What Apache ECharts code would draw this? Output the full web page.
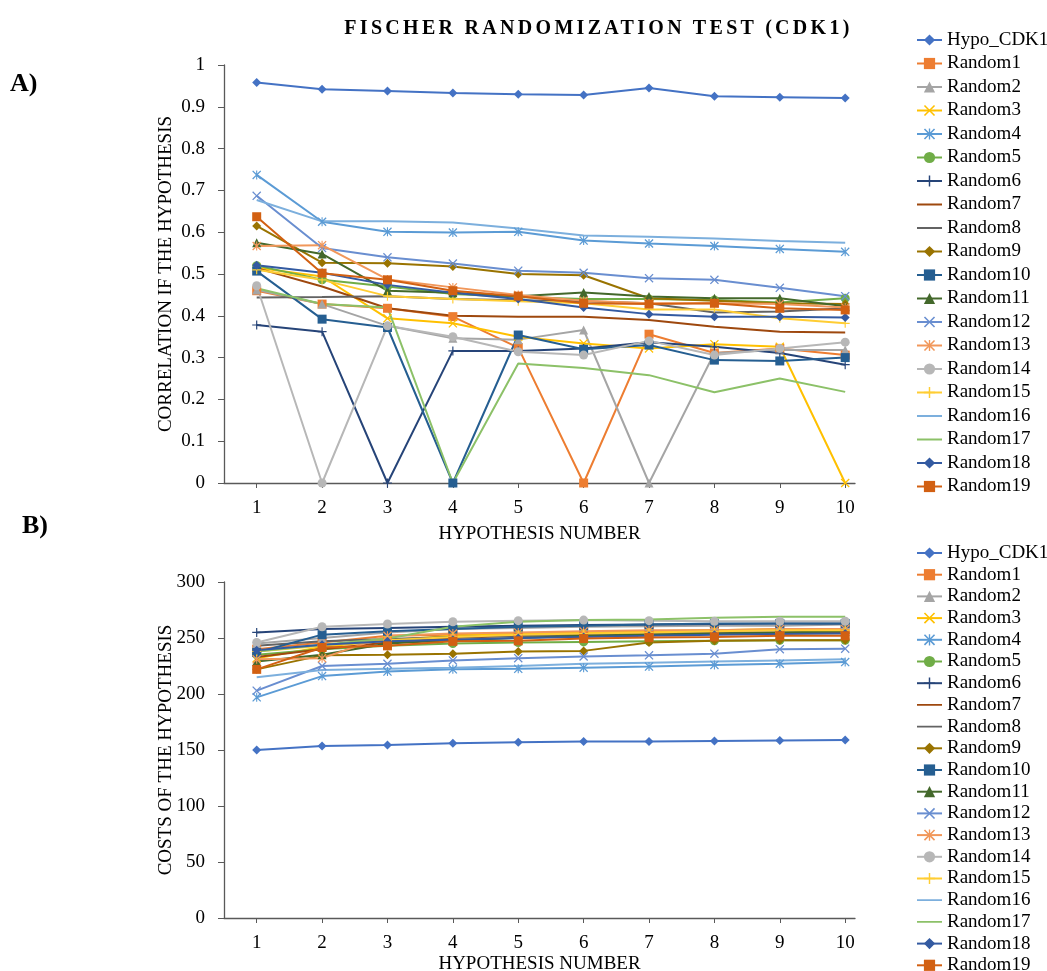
<!DOCTYPE html>
<html>
<head>
<meta charset="utf-8">
<script src="https://cdn.jsdelivr.net/npm/echarts@6/dist/echarts.min.js"></script>
<style>
html,body{margin:0;padding:0;background:#fff;}
#wrap{position:relative;width:1047px;height:971px;overflow:hidden;}
#chart{position:absolute;left:0;top:0;width:1047px;height:971px;}
#title{position:absolute;left:0;width:1197px;top:16px;text-align:center;font-family:'Liberation Serif','Times New Roman',serif;font-weight:bold;font-size:20px;letter-spacing:3.3px;color:#000;white-space:nowrap;}
</style>
</head>
<body>
<div id="wrap">
<div id="chart"></div>
<div id="title">FISCHER RANDOMIZATION TEST (CDK1)</div>
</div>
<script>
// ---------- data ----------
const hypothesisNumbers = [1,2,3,4,5,6,7,8,9,10];
const seriesNames = ['Hypo_CDK1','Random1','Random2','Random3','Random4','Random5','Random6','Random7','Random8','Random9','Random10','Random11','Random12','Random13','Random14','Random15','Random16','Random17','Random18','Random19'];
const yTicksA = [0,0.1,0.2,0.3,0.4,0.5,0.6,0.7,0.8,0.9,1];
const yTicksB = [0,50,100,150,200,250,300];

// Panel A: correlation
const aHypo = [0.958,0.942,0.938,0.933,0.930,0.928,0.945,0.925,0.923,0.921];
const aR1  = [0.460,0.428,0.418,0.398,0.324,0,0.356,0.311,0.322,0.306];
const aR2  = [0.462,0.428,0.376,0.346,0.343,0.366,0,0.311,0.318,0.318];
const aR3  = [0.515,0.494,0.394,0.382,0.350,0.334,0.322,0.332,0.326,0];
const aR4  = [0.737,0.625,0.601,0.599,0.601,0.580,0.573,0.567,0.560,0.553];
const aR5  = [0.520,0.486,0.470,0.452,0.445,0.440,0.440,0.438,0.432,0.442];
const aR6  = [0.378,0.362,0,0.316,0.316,0.322,0.337,0.326,0.311,0.283];
const aR7  = [0.514,0.470,0.418,0.400,0.398,0.398,0.390,0.374,0.362,0.360];
const aR8  = [0.444,0.445,0.447,0.440,0.437,0.435,0.430,0.408,0.410,0.418];
const aR9  = [0.615,0.527,0.526,0.518,0.500,0.497,0.442,0.436,0.430,0.428];
const aR10 = [0.507,0.392,0.372,0,0.354,0.320,0.330,0.294,0.292,0.300];
const aR11 = [0.575,0.548,0.460,0.455,0.447,0.456,0.446,0.442,0.442,0.423];
const aR12 = [0.687,0.562,0.540,0.525,0.508,0.503,0.490,0.486,0.467,0.447];
const aR13 = [0.567,0.569,0.487,0.468,0.450,0.436,0.430,0.430,0.428,0.420];
const aR14 = [0.472,0,0.376,0.350,0.314,0.306,0.340,0.306,0.322,0.337];
const aR15 = [0.510,0.486,0.447,0.440,0.435,0.430,0.415,0.415,0.394,0.382];
const aR16 = [0.677,0.626,0.626,0.623,0.609,0.592,0.589,0.585,0.579,0.575];
const aR17 = [0.466,0.428,0.420,0,0.286,0.275,0.258,0.217,0.250,0.218];
const aR18 = [0.521,0.503,0.474,0.455,0.440,0.420,0.404,0.398,0.398,0.396];
const aR19 = [0.637,0.502,0.486,0.460,0.447,0.430,0.428,0.430,0.418,0.414];

// Panel B: costs
const bHypo = [150,153.5,154.5,156,157,157.5,157.5,158,158.5,159];
const bR1  = [240,246,252,253,254,255,256,257,257,258];
const bR2  = [245,250,255,258,259,260,260.5,261,261,262];
const bR3  = [232,242,248,252,254,255,256,257,258,258];
const bR4  = [197,216,220,222,222.5,223.5,224.5,226,227,228.5];
const bR5  = [235,240,243,245,246,246.5,247,247.5,248,248];
const bR6  = [255,258,259,260,261,261.5,262,262.5,263,263];
const bR7  = [233,240,246,250,252,252.5,253,254,254.5,255];
const bR8  = [243,247,249,251,252,253,254,255,255,256];
const bR9  = [222,234.5,235,236,238,238.5,246,247.5,248,248];
const bR10 = [237,253,256,258,260,261,262,263,263,263];
const bR11 = [229,235,245,248,250,252,253,254,255,256];
const bR12 = [203,225,227,230,232,233.5,234.5,236,240,240.5];
const bR13 = [231,232,252,254,255,256,257,257,258,258];
const bR14 = [246,260,262.5,264.5,265.5,266,265.5,265,265,265];
const bR15 = [238,243,248,251,253,254,255,256,257,257];
const bR16 = [215,221.5,222.5,223.5,225,227,228,229,230,231];
const bR17 = [238,244,249.5,260,264.5,266,266.5,268,269,269];
const bR18 = [239,244,247,248.5,250,251,252,253,253.5,254];
const bR19 = [222,241.5,243,247,247.5,249.5,250.5,251,252,252];

const panelA = [aHypo,aR1,aR2,aR3,aR4,aR5,aR6,aR7,aR8,aR9,aR10,aR11,aR12,aR13,aR14,aR15,aR16,aR17,aR18,aR19];
const panelB = [bHypo,bR1,bR2,bR3,bR4,bR5,bR6,bR7,bR8,bR9,bR10,bR11,bR12,bR13,bR14,bR15,bR16,bR17,bR18,bR19];

// ---------- styles ----------
const colors = ['#4472C4','#ED7D31','#A5A5A5','#FFC000','#5B9BD5','#70AD47','#264478','#9E480E','#636363','#997300','#255E91','#43682B','#698ED0','#F1975A','#B7B7B7','#FFCD33','#7CAFDD','#8CC168','#335AA1','#D26012'];
const X_PATH = 'path://M1,0 L5,4 L9,0 L10,1 L6,5 L10,9 L9,10 L5,6 L1,10 L0,9 L4,5 L0,1 Z';
const STAR_PATH = 'path://M1,0 L5,4 L9,0 L10,1 L6,5 L10,9 L9,10 L5,6 L1,10 L0,9 L4,5 L0,1 Z M4.4,0 L5.6,0 L5.6,10 L4.4,10 Z';
const PLUS_PATH = 'path://M4.35,0 L5.65,0 L5.65,4.35 L10,4.35 L10,5.65 L5.65,5.65 L5.65,10 L4.35,10 L4.35,5.65 L0,5.65 L0,4.35 L4.35,4.35 Z';
const LINE_ICON = 'path://M0,0 L0.01,0 L0,0 Z M0,6.1 L25,6.1 L25,7.9 L0,7.9 Z M0,14 L0.01,14 L0,14 Z';
const symbols = ['diamond','rect','triangle',X_PATH,STAR_PATH,'circle',PLUS_PATH,'none','none','diamond','rect','triangle',X_PATH,STAR_PATH,'circle',PLUS_PATH,'none','none','diamond','rect'];
const symbolSizes = {'diamond':9,'rect':9,'triangle':9,'circle':9};
function symSize(s){ return symbolSizes[s] || 9; }

const FONT = "'Liberation Serif','Times New Roman',serif";
const FS = 19;
const AXIS_COLOR = '#595959';
const TEXT_COLOR = '#000';

function xAxisCfg(gridIndex){
  return {
    type:'value', gridIndex:gridIndex, min:0.5, max:10.15,
    name:'HYPOTHESIS NUMBER', nameLocation:'middle', nameGap: gridIndex===0 ? 42 : 37,
    nameMoveOverlap:false,
    nameTextStyle:{fontFamily:FONT,fontSize:FS,color:TEXT_COLOR},
    axisLine:{show:true,onZero:false,lineStyle:{color:AXIS_COLOR,width:1.3}},
    axisTick:{show:true,length:5,inside:false,customValues:hypothesisNumbers,lineStyle:{color:AXIS_COLOR}},
    axisLabel:{customValues:hypothesisNumbers,fontFamily:FONT,fontSize:FS,color:TEXT_COLOR,margin:16},
    splitLine:{show:false}
  };
}
function yAxisCfg(gridIndex, ticks, name){
  return {
    type:'value', gridIndex:gridIndex, min:ticks[0], max:ticks[ticks.length-1], interval:ticks[1]-ticks[0],
    name:name, nameLocation:'middle', nameGap: 48,
    nameMoveOverlap:false,
    nameTextStyle:{fontFamily:FONT,fontSize:FS,color:TEXT_COLOR},
    axisLine:{show:true,lineStyle:{color:AXIS_COLOR,width:1.3}},
    axisTick:{show:true,length:6,inside:false,lineStyle:{color:AXIS_COLOR}},
    axisLabel:{fontFamily:FONT,fontSize:FS,color:TEXT_COLOR,margin:19},
    splitLine:{show:false}
  };
}

const series = [];
[panelA, panelB].forEach(function(panel, gi){
  panel.forEach(function(vals, i){
    series.push({
      name: seriesNames[i], type:'line', xAxisIndex:gi, yAxisIndex:gi,
      data: hypothesisNumbers.map(function(h,k){ return [h, vals[k]]; }),
      symbol: symbols[i], symbolSize: symSize(symbols[i]), showSymbol: symbols[i] !== 'none',
      lineStyle:{color:colors[i], width:2},
      itemStyle:{color:colors[i]},
      emphasis:{disabled:true},
      animation:false
    });
  });
});

const legendItems = seriesNames.map(function(n, i){
  return symbols[i] === 'none' ? {name:n, icon:LINE_ICON} : {name:n};
});

function legendCfg(top, gap){
  return {
    orient:'vertical', left:916, top:top, height:560, padding:0, itemGap:gap, itemWidth:25, itemHeight:14,
    data: legendItems, selectedMode:false,
    textStyle:{fontFamily:FONT,fontSize:FS,color:TEXT_COLOR}
  };
}

const chart = echarts.init(document.getElementById('chart'), null, {renderer:'canvas'});
chart.setOption({
  animation:false,
  color: colors,
  grid:[
    {left:224, right:192, top:65, height:418, outerBoundsMode:'none'},
    {left:224, right:192, top:582, height:336, outerBoundsMode:'none'}
  ],
  xAxis:[xAxisCfg(0), xAxisCfg(1)],
  yAxis:[yAxisCfg(0, yTicksA, 'CORRELATION IF THE HYPOTHESIS'), yAxisCfg(1, yTicksB, 'COSTS OF THE HYPOTHESIS')],
  legend:[legendCfg(30.5, 4.5), legendCfg(543.5, 2.7)],
  graphic:[
    {type:'text', left:10, top:71, style:{text:'A)', font:"bold 26px 'Liberation Serif','Times New Roman',serif", fill:'#000'}},
    {type:'text', left:22, top:513, style:{text:'B)', font:"bold 26px 'Liberation Serif','Times New Roman',serif", fill:'#000'}}
  ],
  series: series
});
</script>
</body>
</html>
